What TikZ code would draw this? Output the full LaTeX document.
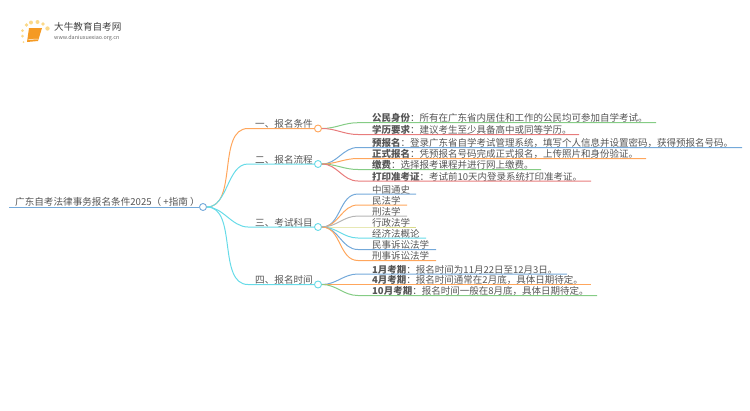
\documentclass[tikz,border=0pt]{standalone}
\usepackage{fontspec}
\setmainfont{Noto Sans CJK SC}
\usepackage{tikz}
\usetikzlibrary{arrows, calc, positioning, shapes}
\definecolor{txtgray}{HTML}{555555}
\definecolor{cblue}{HTML}{74A9DA}
\definecolor{corange}{HTML}{FFA65C}
\definecolor{ccyan}{HTML}{67DBE8}
\definecolor{cgreen}{HTML}{85CC85}
\definecolor{cred}{HTML}{E87C7C}
\definecolor{cgray}{HTML}{B5B5B5}
\definecolor{cyellow}{HTML}{DADB8C}
\definecolor{logoor}{HTML}{F59A23}
\definecolor{logodot}{HTML}{FBD98A}
\tikzset{
    hub/.style={circle, draw, fill=white, line width=0.9pt, minimum size=7pt, inner sep=0pt},
    rootlabel/.style={anchor=south west, inner sep=0pt, yshift=1pt, text=txtgray, font=\fontsize{9.6}{10}\selectfont},
    branchlabel/.style={anchor=south west, inner sep=0pt, yshift=1pt, text=txtgray, font=\fontsize{9.6}{10}\selectfont},
    leaflabel/.style={anchor=south west, inner sep=0pt, yshift=1pt, text=txtgray, font=\fontsize{9.5}{10}\selectfont},
    link/.style={line width=1pt}
}
\newcommand{\lead}[1]{{\bfseries #1}}
\begin{document}
\begin{tikzpicture}[x=1pt, y=-1pt]
        \useasboundingbox (0,0) rectangle (750,410);

        % logo
        \fill[logodot] (22.5,36) circle (1.5pt) (22.5,30.5) circle (1.5pt) (26.5,25) circle (1.8pt) (31,22.5) circle (2pt) (37.5,22) circle (2pt) (43,24) circle (1.8pt) (47.5,28.5) circle (2.2pt) (23.5,42) circle (1pt);
        \fill[logoor] (29,28) -- (42,28) -- (38,41) -- (27,42) -- cycle;
        \draw[white, line width=0.5pt] (28.5,39.5) -- (38,39);
        \node[anchor=west, inner sep=0pt, text=black!75, font=\fontsize{9.6}{10}\selectfont] (sitename) at (54,27) {大牛教育自考网};
        \node[anchor=west, inner sep=0pt, text=black!60, font=\fontsize{5.4}{6}\selectfont] (siteurl) at (54,38.5) {www.daniuxuexiao.org.cn};

        % hubs
        \node[hub, draw=cblue] (root) at (203,207) {};
        \node[hub, draw=corange] (h1) at (318,128.5) {};
        \node[hub, draw=ccyan] (h2) at (318,164) {};
        \node[hub, draw=ccyan] (h3) at (318,227) {};
        \node[hub, draw=ccyan] (h4) at (318,284.5) {};
        \coordinate (rootstart) at (9,207);
        \coordinate (b1) at (248,128.5);
        \coordinate (b2) at (248,164);
        \coordinate (b3) at (248,227);
        \coordinate (b4) at (248,284.5);

        \node[rootlabel] (rootlabel) at (15,207.5) {广东自考法律事务报名条件2025（ +指南 ）};
        \node[branchlabel] (b1label) at (255,129.5) {一、报名条件};
        \node[branchlabel] (b2label) at (255,165) {二、报名流程};
        \node[branchlabel] (b3label) at (255,228) {三、考试科目};
        \node[branchlabel] (b4label) at (255,285.5) {四、报名时间};

        % leaves
        \coordinate (a1) at (358,122.7);
        \coordinate (a2) at (358,134.5);
        \coordinate (a3) at (358,147.5);
        \coordinate (a4) at (358,158.5);
        \coordinate (a5) at (358,169.5);
        \coordinate (a6) at (358,181);
        \coordinate (a7) at (358,194);
        \coordinate (a8) at (358,205);
        \coordinate (a9) at (358,216);
        \coordinate (a10) at (358,227);
        \coordinate (a11) at (358,238);
        \coordinate (a12) at (358,249.5);
        \coordinate (a13) at (358,260.5);
        \coordinate (a14) at (358,274);
        \coordinate (a15) at (358,284.5);
        \coordinate (a16) at (358,295.5);
        \node[leaflabel] (t1) at (372,124) {\lead{公民身份}：所有在广东省内居住和工作的公民均可参加自学考试。};
        \node[leaflabel] (t2) at (372,135.8) {\lead{学历要求}：建议考生至少具备高中或同等学历。};
        \node[leaflabel] (t3) at (372,148.8) {\lead{预报名}：登录广东省自学考试管理系统，填写个人信息并设置密码，获得预报名号码。};
        \node[leaflabel] (t4) at (372,159.8) {\lead{正式报名}：凭预报名号码完成正式报名，上传照片和身份验证。};
        \node[leaflabel] (t5) at (372,170.8) {\lead{缴费}：选择报考课程并进行网上缴费。};
        \node[leaflabel] (t6) at (372,182.3) {\lead{打印准考证}：考试前10天内登录系统打印准考证。};
        \node[leaflabel] (t7) at (372,195.3) {中国通史};
        \node[leaflabel] (t8) at (372,206.3) {民法学};
        \node[leaflabel] (t9) at (372,217.3) {刑法学};
        \node[leaflabel] (t10) at (372,228.3) {行政法学};
        \node[leaflabel] (t11) at (372,239.3) {经济法概论};
        \node[leaflabel] (t12) at (372,250.8) {民事诉讼法学};
        \node[leaflabel] (t13) at (372,261.8) {刑事诉讼法学};
        \node[leaflabel] (t14) at (372,275.3) {\lead{1月考期}：报名时间为11月22日至12月3日。};
        \node[leaflabel] (t15) at (372,285.8) {\lead{4月考期}：报名时间通常在2月底，具体日期待定。};
        \node[leaflabel] (t16) at (372,296.8) {\lead{10月考期}：报名时间一般在8月底，具体日期待定。};

        % connectors
        \draw[link, cblue] (rootstart) -- (root);
        \draw[link, corange] (root) to [out=0, in=180, looseness=0.9] (b1) -- (h1);
        \draw[link, ccyan] (root) to [out=0, in=180, looseness=0.9] (b2) -- (h2);
        \draw[link, ccyan] (root) to [out=0, in=180, looseness=0.9] (b3) -- (h3);
        \draw[link, ccyan] (root) to [out=0, in=180, looseness=0.9] (b4) -- (h4);

        \draw[link, cgreen] (h1) to [out=0, in=180] (a1) -- ++(298,0);
        \draw[link, cred] (h1) to [out=0, in=180] (a2) -- ++(221,0);
        \draw[link, cblue] (h2) to [out=0, in=180] (a3) -- ++(384,0);
        \draw[link, corange] (h2) to [out=0, in=180] (a4) -- ++(288,0);
        \draw[link, cgreen] (h2) to [out=0, in=180] (a5) -- ++(183,0);
        \draw[link, cred] (h2) to [out=0, in=180] (a6) -- ++(233,0);
        \draw[link, cblue] (h3) to [out=0, in=180] (a7) -- ++(58,0);
        \draw[link, corange] (h3) to [out=0, in=180] (a8) -- ++(49,0);
        \draw[link, cgray] (h3) to [out=0, in=180] (a9) -- ++(49,0);
        \draw[link, cyellow] (h3) -- (a10) -- ++(58,0);
        \draw[link, ccyan] (h3) to [out=0, in=180] (a11) -- ++(68,0);
        \draw[link, cblue] (h3) to [out=0, in=180] (a12) -- ++(78,0);
        \draw[link, corange] (h3) to [out=0, in=180] (a13) -- ++(78,0);
        \draw[link, cblue] (h4) to [out=0, in=180] (a14) -- ++(209,0);
        \draw[link, corange] (h4) -- (a15) -- ++(233,0);
        \draw[link, cgreen] (h4) to [out=0, in=180] (a16) -- ++(239,0);
    \end{tikzpicture}
\end{document}
